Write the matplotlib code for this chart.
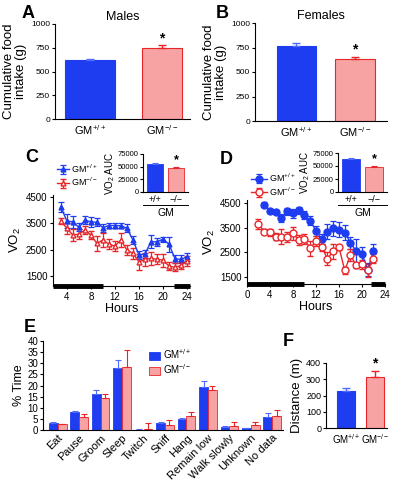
import matplotlib as mpl
mpl.use('Agg')
import matplotlib.pyplot as plt
import numpy as np

plt.rcParams['font.family'] = ['Liberation Sans', 'DejaVu Sans']
plt.rcParams['mathtext.fontset'] = 'custom'
plt.rcParams['mathtext.rm'] = 'Liberation Sans'
plt.rcParams['mathtext.it'] = 'Liberation Sans:italic'
plt.rcParams['axes.linewidth'] = 0.8
plt.rcParams['xtick.major.width'] = 0.8
plt.rcParams['ytick.major.width'] = 0.8
plt.rcParams['xtick.major.size'] = 2.5
plt.rcParams['ytick.major.size'] = 2.5

# ---- data ----
genotypes = ['GM$^{+/+}$', 'GM$^{-/-}$']
food_males = [620, 750]
food_males_err = [10, 25]
food_females = [765, 635]
food_females_err = [35, 22]

hours_c = list(range(3, 25))
vo2_c_wt = [4130, 3590, 3560, 3350, 3620, 3560, 3540, 3340, 3420, 3420, 3410, 3320,
            2870, 2300, 2330, 2800, 2800, 2900, 2710, 2160, 2130, 2230]
vo2_c_wt_err = [200, 250, 220, 150, 150, 200, 150, 150, 100, 100, 100, 150,
                150, 150, 150, 250, 150, 100, 280, 150, 150, 150]
vo2_c_ko = [3600, 3310, 3060, 3090, 3250, 3060, 2740, 2870, 2710, 2640, 2870, 2490,
            2360, 2040, 2130, 2170, 2140, 2100, 1880, 1830, 1900, 2070]
vo2_c_ko_err = [120, 200, 220, 200, 150, 150, 280, 250, 200, 200, 250, 200,
                200, 300, 250, 250, 200, 250, 150, 150, 150, 200]
auc_c = [55000, 47000]
auc_c_err = [1500, 1500]

hours_d_wt = list(range(3, 23))
vo2_d_wt = [4430, 4190, 4130, 3890, 4160, 4090, 4200, 4020, 3780, 3370, 3030, 3340,
            3480, 3410, 3300, 2890, 2550, 2430, 1800, 2550]
vo2_d_wt_err = [100, 80, 80, 180, 150, 180, 150, 150, 180, 200, 200, 300,
                300, 300, 300, 250, 500, 300, 250, 300]
hours_d_ko = list(range(2, 23))
vo2_d_ko = [3650, 3340, 3310, 3140, 3140, 3110, 3270, 3000, 3030, 2660, 2960, 2700,
            2250, 2550, 2700, 1770, 2390, 1980, 2010, 1770, 2250]
vo2_d_ko_err = [200, 100, 150, 150, 300, 200, 250, 200, 200, 300, 200, 150,
                250, 300, 100, 150, 250, 100, 200, 250, 200]
auc_d = [64000, 49000]
auc_d_err = [800, 800]

dark_c = [(1.7, 10), (21.8, 24.5)]
dark_d = [(0, 10), (21.5, 24)]

behaviours = ['Eat', 'Pause', 'Groom', 'Sleep', 'Twitch', 'Sniff', 'Hang',
              'Remain low', 'Walk slowly', 'Unknown', 'No data']
time_wt = [3.2, 8.0, 16.0, 28.0, 0.2, 3.0, 5.0, 19.5, 1.5, 1.0, 6.0]
time_wt_err = [0.3, 0.6, 2.2, 3.5, 0.1, 0.6, 0.5, 2.3, 0.2, 0.1, 1.7]
time_ko = [2.8, 6.0, 14.3, 28.5, 0.3, 2.3, 6.3, 18.0, 2.0, 2.3, 6.2]
time_ko_err = [0.1, 1.0, 2.0, 7.5, 3.0, 2.2, 1.7, 2.0, 1.8, 1.2, 2.7]

distance = [230, 315]
distance_err = [15, 35]

BLUE = '#1e3cf0'
BLUE_ERR = '#4f6cff'
PINK = '#f8a3a3'
RED = '#e8262a'

W, H = 402, 480
fig = plt.figure(figsize=(W / 100, H / 100), dpi=100)


def px(l, t, r, b):
    return [l / W, 1 - b / H, (r - l) / W, (b - t) / H]


def clean(ax):
    ax.spines['top'].set_visible(False)
    ax.spines['right'].set_visible(False)


def two_bars(ax, vals, errs, width, ylim, yticks, fs_y=6, fs_x=8):
    x = np.arange(2)
    ax.bar(x, vals, width=width, color=[BLUE, PINK], edgecolor=[BLUE, RED], linewidth=0.8)
    for i in range(2):
        ax.errorbar(x[i], vals[i], yerr=[[0], [errs[i]]], fmt='none',
                    ecolor=[BLUE_ERR, RED][i], capsize=3, elinewidth=1, capthick=1)
    ax.set_ylim(*ylim)
    ax.set_yticks(yticks)
    ax.tick_params(axis='y', labelsize=fs_y, pad=1)
    ax.set_xticks(x)
    ax.set_xticklabels(genotypes, fontsize=fs_x)
    ax.tick_params(axis='x', length=0, pad=3)
    clean(ax)


# ---- A ----
axA = fig.add_axes(px(55, 24, 190, 119))
two_bars(axA, food_males, food_males_err, [0.7, 0.56], (0, 1000), [0, 250, 500, 750, 1000])
axA.set_xlim(-0.49, 1.39)
axA.set_ylabel('Cumulative food\nintake (g)', fontsize=9.5, labelpad=3, linespacing=0.95)
axA.set_title('Males', fontsize=9, pad=3)
axA.text(1, 775, '*', ha='center', va='bottom', fontsize=10, fontweight='bold')
fig.text(28 / W, 1 - 13 / H, 'A', fontsize=13, fontweight='bold', ha='center', va='center')

# ---- B ----
axB = fig.add_axes(px(255, 23, 387, 121))
two_bars(axB, food_females, food_females_err, [0.67, 0.68], (0, 1000), [0, 250, 500, 750, 1000])
axB.set_xlim(-0.71, 1.55)
axB.set_ylabel('Cumulative food\nintake (g)', fontsize=9.5, labelpad=3, linespacing=0.95)
axB.set_title('Females', fontsize=9, pad=3)
axB.text(1, 657, '*', ha='center', va='bottom', fontsize=10, fontweight='bold')
fig.text(222 / W, 1 - 13 / H, 'B', fontsize=13, fontweight='bold', ha='center', va='center')


def vo2_panel(ax, hw, yw, ew, hk, yk, ek, mk, ms, ylim, xlim, xticks, dark,
              leg_anchor, leg_fs, leg_hl):
    ax.errorbar(hw, yw, yerr=ew, color=BLUE, marker=mk, ms=ms, lw=1, capsize=2,
                elinewidth=0.9, capthick=0.9, label='GM$^{+/+}$')
    ax.errorbar(hk, yk, yerr=ek, color=RED, marker=mk, ms=ms, mfc='white', mec=RED,
                mew=1, lw=1, capsize=2, elinewidth=0.9, capthick=0.9, label='GM$^{-/-}$')
    ax.set_ylim(*ylim)
    ax.set_xlim(*xlim)
    ax.set_xticks(xticks)
    ax.set_yticks([1500, 2500, 3500, 4500])
    ax.tick_params(labelsize=7, pad=1.5)
    for a, b in dark:
        ax.plot([a, b], [ylim[0], ylim[0]], color='black', lw=3.5,
                solid_capstyle='butt', clip_on=False, zorder=5)
    ax.set_xlabel('Hours', fontsize=9, labelpad=1)
    ax.set_ylabel('VO$_2$', fontsize=9.5, labelpad=2)
    ax.legend(loc='upper left', bbox_to_anchor=leg_anchor, frameon=False, fontsize=leg_fs,
              handlelength=leg_hl, handletextpad=0.2, labelspacing=0.15, borderpad=0,
              borderaxespad=0)
    clean(ax)


def auc_inset(ax, vals, errs):
    x = np.arange(2)
    ax.bar(x, vals, width=0.75, color=[BLUE, PINK], edgecolor=[BLUE, RED], linewidth=0.6)
    for i in range(2):
        ax.errorbar(x[i], vals[i], yerr=[[0], [errs[i]]], fmt='none',
                    ecolor=[BLUE_ERR, RED][i], capsize=2, elinewidth=0.8, capthick=0.8)
    ax.set_ylim(0, 75000)
    ax.set_xlim(-0.55, 1.55)
    ax.set_yticks([0, 25000, 50000, 75000])
    ax.tick_params(axis='y', labelsize=5.5, pad=1, length=2)
    ax.set_xticks(x)
    ax.set_xticklabels(['+/+', '\u2212/\u2212'], fontsize=6.5)
    ax.tick_params(axis='x', length=0, pad=2)
    ax.plot([0, 1], [-0.33, -0.33], transform=ax.transAxes, color='black', lw=0.7, clip_on=False)
    ax.set_xlabel('GM', fontsize=7.5, labelpad=3)
    ax.set_ylabel('VO$_2$ AUC', fontsize=7, labelpad=1)
    ax.text(1, vals[1] + 3000, '*', ha='center', va='bottom', fontsize=9, fontweight='bold')
    clean(ax)


# ---- C ----
axC = fig.add_axes(px(53, 195, 190, 286))
vo2_panel(axC, hours_c, vo2_c_wt, vo2_c_wt_err, hours_c, vo2_c_ko, vo2_c_ko_err,
          '^', 3.5, (1120, 4580), (1.7, 24.5), [4, 8, 12, 16, 20, 24], dark_c,
          (0.03, 1.36), 6.5, 1.3)
axCi = fig.add_axes(px(143, 154, 188, 192))
auc_inset(axCi, auc_c, auc_c_err)
fig.text(32 / W, 1 - 158 / H, 'C', fontsize=13, fontweight='bold', ha='center', va='center')

# ---- D ----
axD = fig.add_axes(px(247, 200, 385, 284))
vo2_panel(axD, hours_d_wt, vo2_d_wt, vo2_d_wt_err, hours_d_ko, vo2_d_ko, vo2_d_ko_err,
          'o', 5, (1220, 4620), (0, 24), [0, 4, 8, 12, 16, 20, 24], dark_d,
          (0.03, 1.34), 6.5, 1.8)
axDi = fig.add_axes(px(338, 153, 387, 192))
auc_inset(axDi, auc_d, auc_d_err)
fig.text(226 / W, 1 - 159 / H, 'D', fontsize=13, fontweight='bold', ha='center', va='center')

# ---- E ----
axE = fig.add_axes(px(43, 341, 283, 430))
xe = np.arange(len(behaviours))
bw = 0.41
axE.bar(xe - bw / 2, time_wt, width=bw, color=BLUE, edgecolor=BLUE, linewidth=0.6, label='GM$^{+/+}$')
axE.bar(xe + bw / 2, time_ko, width=bw, color=PINK, edgecolor=RED, linewidth=0.6, label='GM$^{-/-}$')
axE.errorbar(xe - bw / 2, time_wt, yerr=[np.zeros(len(xe)), time_wt_err], fmt='none',
             ecolor=BLUE_ERR, capsize=2, elinewidth=0.8, capthick=0.8)
axE.errorbar(xe + bw / 2, time_ko, yerr=[np.zeros(len(xe)), time_ko_err], fmt='none',
             ecolor=RED, capsize=2, elinewidth=0.8, capthick=0.8)
axE.set_ylim(0, 40)
axE.set_xlim(-0.69, 10.5)
axE.set_yticks(range(0, 41, 5))
axE.tick_params(axis='y', labelsize=7, pad=1)
axE.set_xticks(xe)
axE.set_xticklabels(behaviours, rotation=45, ha='right', rotation_mode='anchor', fontsize=8)
axE.tick_params(axis='x', length=0, pad=2)
axE.set_ylabel('% Time', fontsize=9, labelpad=2)
axE.legend(loc='upper left', bbox_to_anchor=(0.44, 0.93), frameon=False, fontsize=7,
           handlelength=1.2, handleheight=0.9, handletextpad=0.3, labelspacing=0.15,
           borderpad=0, borderaxespad=0)
clean(axE)
fig.text(30 / W, 1 - 327 / H, 'E', fontsize=13, fontweight='bold', ha='center', va='center')

# ---- F ----
axF = fig.add_axes(px(326, 363, 387, 428))
two_bars(axF, distance, distance_err, [0.62, 0.62], (0, 400), [0, 100, 200, 300, 400],
         fs_y=6.5, fs_x=7)
axF.set_xlim(-0.69, 1.41)
axF.set_ylabel('Distance (m)', fontsize=9.5, labelpad=2)
axF.text(1, 355, '*', ha='center', va='bottom', fontsize=10, fontweight='bold')
fig.text(288 / W, 1 - 342 / H, 'F', fontsize=13, fontweight='bold', ha='center', va='center')

fig.savefig('out.png', dpi=100)
plt.close()
